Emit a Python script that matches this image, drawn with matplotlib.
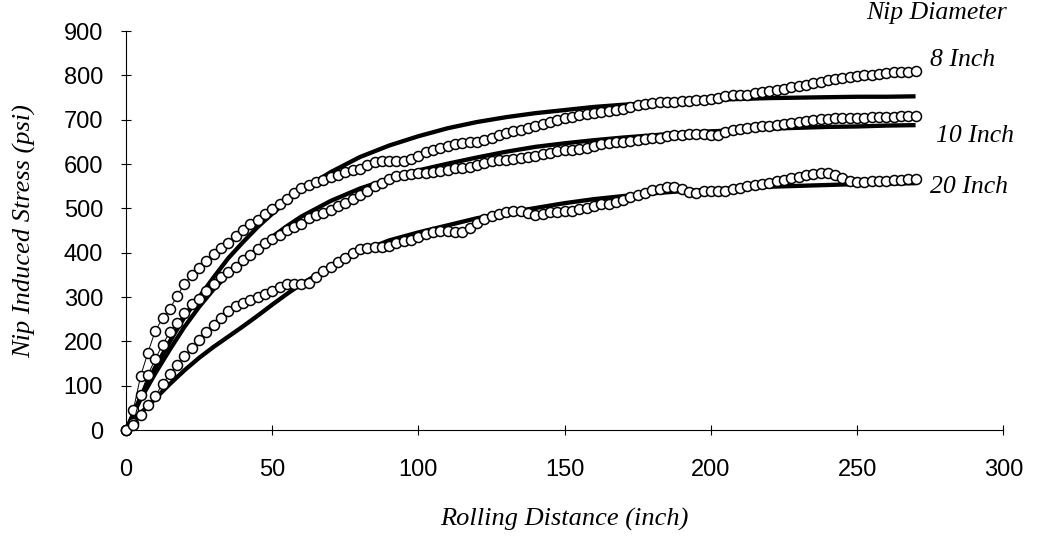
import numpy as np
import matplotlib
matplotlib.use("Agg")
import matplotlib.pyplot as plt

# measured points, rolling distance every 2.5 inch
dist = np.arange(0, 270.1, 2.5)

stress_8in = [0, 45, 122, 175, 224, 252, 274, 303, 330, 350,
              365, 382, 398, 410, 423, 438, 452, 464, 475, 487,
              499, 511, 522, 534, 546, 554, 559, 564, 570, 576,
              582, 587, 590, 597, 604, 606, 608, 608, 608, 611,
              619, 627, 632, 637, 641, 645, 647, 650, 651, 654,
              659, 665, 670, 674, 677, 681, 686, 691, 695, 699,
              703, 706, 710, 714, 716, 718, 720, 722, 725, 728,
              733, 736, 739, 741, 741, 741, 742, 743, 744, 745,
              747, 750, 753, 755, 756, 757, 760, 763, 765, 768,
              770, 773, 776, 779, 783, 786, 789, 792, 794, 796,
              798, 800, 802, 804, 806, 807, 808, 808, 809]

stress_10in = [0, 15, 80, 125, 160, 193, 221, 242, 264, 285,
               296, 313, 329, 345, 356, 369, 384, 396, 408, 422,
               431, 440, 451, 458, 466, 478, 485, 490, 497, 505,
               513, 521, 530, 540, 550, 558, 566, 574, 575, 578,
               579, 580, 582, 584, 587, 591, 592, 593, 598, 603,
               608, 609, 610, 612, 613, 616, 619, 623, 626, 629,
               631, 633, 634, 636, 640, 645, 648, 650, 650, 652,
               654, 656, 658, 660, 664, 665, 666, 668, 669, 669,
               665, 666, 672, 676, 679, 681, 683, 685, 687, 689,
               690, 692, 694, 697, 699, 701, 702, 703, 703, 704,
               705, 705, 706, 706, 707, 707, 708, 708, 709]

stress_20in = [0, 12, 35, 56, 76, 105, 126, 146, 167, 185,
               204, 222, 238, 254, 268, 280, 286, 293, 301, 306,
               313, 322, 330, 330, 329, 332, 345, 358, 368, 379,
               389, 400, 408, 411, 412, 412, 415, 421, 427, 430,
               435, 442, 446, 449, 449, 446, 448, 457, 468, 476,
               482, 488, 491, 494, 494, 490, 486, 488, 491, 492,
               494, 495, 498, 502, 506, 509, 511, 514, 518, 525,
               531, 536, 541, 545, 548, 548, 543, 537, 536, 539,
               540, 540, 540, 543, 547, 550, 553, 555, 558, 561,
               565, 569, 572, 575, 577, 579, 580, 575, 568, 561,
               559, 560, 561, 562, 563, 564, 565, 566, 567]

# fitted curves
fit_dist = [0, 5, 10, 15, 20, 25, 30, 35, 40, 45, 50, 55, 60,
            70, 80, 90, 100, 110, 120, 130, 140, 150, 160, 170,
            180, 190, 200, 210, 220, 230, 240, 250, 260, 270]
fit_8in = [0, 75, 142, 200, 255, 300, 345, 388, 424, 458, 488, 516, 541,
           582, 616, 642, 663, 681, 695, 706, 715, 722, 729, 734,
           738, 742, 745, 747, 749, 750, 751, 752, 752, 753]
fit_10in = [0, 70, 128, 182, 233, 278, 318, 352, 382, 409, 436, 460, 482,
            517, 545, 567, 586, 601, 615, 628, 639, 647, 654, 660,
            665, 670, 674, 677, 680, 682, 684, 685, 687, 688]
fit_20in = [0, 38, 71, 104, 135, 163, 188, 211, 234, 258, 283, 307, 330,
            368, 402, 428, 446, 462, 478, 490, 501, 512, 521, 528,
            534, 539, 543, 546, 549, 551, 553, 555, 556, 557]

series_names = ["8 Inch", "10 Inch", "20 Inch"]
label_x = [275, 277, 275]
label_y = [835, 664, 548]

serif = ["Liberation Serif", "DejaVu Serif"]

fig = plt.figure(figsize=(10.37, 5.37), dpi=100)
ax = fig.add_axes([0.1215, 0.199, 0.846, 0.743])

for fit in [fit_8in, fit_10in, fit_20in]:
    ax.plot(fit_dist, fit, color="black", lw=3.1, solid_capstyle="butt",
            solid_joinstyle="round", zorder=2)

# measured data: open circles joined by a thin line
for data in [stress_8in, stress_10in, stress_20in]:
    ax.plot(dist, data, color="black", lw=0.7, marker="o", markersize=7.2,
            markerfacecolor="white", markeredgecolor="black", markeredgewidth=1.1,
            zorder=3, clip_on=False)

for name, lx, ly in zip(series_names, label_x, label_y):
    ax.text(lx, ly, name, family=serif, style="italic", fontsize=18.5,
            ha="left", va="center")
ax.text(253, 941, "Nip Diameter", family=serif, style="italic", fontsize=18.5,
        ha="left", va="center")

ax.set_xlim(0, 300)
ax.set_ylim(0, 900)
ax.set_xticks(range(0, 301, 50))
ax.set_yticks(range(0, 901, 100))
for side in ["top", "right"]:
    ax.spines[side].set_visible(False)
ax.spines["left"].set_linewidth(0.8)
ax.spines["bottom"].set_linewidth(0.8)
ax.tick_params(direction="inout", length=7, width=0.8, labelsize=17)
ax.tick_params(axis="x", pad=17)
ax.tick_params(axis="y", pad=13)
for lab in ax.get_xticklabels() + ax.get_yticklabels():
    lab.set_family(["Liberation Sans", "DejaVu Sans"])

ax.set_xlabel("Rolling Distance (inch)", family=serif, style="italic", fontsize=19)
ax.set_ylabel("Nip Induced Stress (psi)", family=serif, style="italic", fontsize=19)
ax.xaxis.set_label_coords(0.5, -0.225)
ax.xaxis.label.set_va("center")
ax.yaxis.set_label_coords(-0.116, 0.5)
ax.yaxis.label.set_va("center")

plt.savefig("out.png", dpi=100)
